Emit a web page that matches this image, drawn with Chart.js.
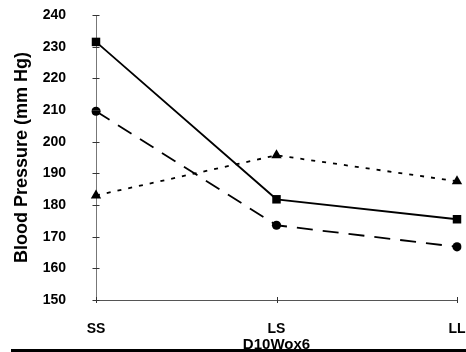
<!DOCTYPE html>
<html>
<head>
<meta charset="utf-8">
<script src="https://cdn.jsdelivr.net/npm/chart.js@4"></script>
<style>
html,body{margin:0;padding:0;background:#fff;}
#wrap{width:466px;height:352px;position:relative;}
</style>
</head>
<body>
<div id="wrap"><canvas id="c" width="466" height="352"></canvas></div>
<script>
const categories = ["SS", "LS", "LL"];
const squareSeries = [231.5, 181.8, 175.5];
const circleSeries = [209.6, 173.6, 166.8];
const triangleSeries = [183.0, 195.7, 187.5];
const yTicks = [150, 160, 170, 180, 190, 200, 210, 220, 230, 240];

const FONT = "'Liberation Sans', Arial, sans-serif";

const crossTicks = {
  id: 'crossTicks',
  afterDraw(chart) {
    const ctx = chart.ctx;
    const x = chart.scales.x, y = chart.scales.y;
    ctx.save();
    ctx.strokeStyle = '#333';
    ctx.lineWidth = 1;
    const x0 = x.getPixelForValue(0);
    yTicks.forEach(v => {
      const py = Math.round(y.getPixelForValue(v)) + 0.5;
      ctx.beginPath();
      ctx.moveTo(x0 - 3.5, py);
      ctx.lineTo(x0 + 3.5, py);
      ctx.stroke();
    });
    const yb = y.getPixelForValue(150);
    categories.forEach((c, i) => {
      const px = Math.round(x.getPixelForValue(i)) + 0.5;
      ctx.beginPath();
      ctx.moveTo(px, yb - 3);
      ctx.lineTo(px, yb + 3);
      ctx.stroke();
    });
    // bottom separator rule
    ctx.fillStyle = '#000';
    ctx.fillRect(11, 349, 466 - 11, 3);
    ctx.restore();
  }
};

new Chart(document.getElementById('c'), {
  type: 'line',
  data: {
    labels: categories,
    datasets: [
      {
        data: squareSeries,
        borderColor: '#000', backgroundColor: '#000',
        borderWidth: 1.8, pointStyle: 'rect', pointRadius: 6,
        pointBorderWidth: 0, tension: 0
      },
      {
        data: circleSeries,
        borderColor: '#000', backgroundColor: '#000',
        borderWidth: 1.8, borderDash: [16, 10], pointStyle: 'circle', pointRadius: 4.6,
        pointBorderWidth: 0, tension: 0
      },
      {
        data: triangleSeries,
        borderColor: '#000', backgroundColor: '#000',
        borderWidth: 1.8, borderDash: [4, 7], pointStyle: 'triangle', pointRadius: 6,
        pointBorderWidth: 0, tension: 0
      }
    ]
  },
  options: {
    responsive: false,
    animation: false,
    devicePixelRatio: 1,
    layout: { padding: { top: 15, right: 9, left: 0, bottom: 0 } },
    plugins: { legend: { display: false }, tooltip: { enabled: false } },
    scales: {
      x: {
        offset: false,
        grid: { display: false, drawOnChartArea: false },
        border: { display: true, color: '#555', width: 1 },
        ticks: { color: '#000', font: { family: FONT, size: 14, weight: 'bold' }, padding: 13, maxRotation: 0 },
        title: { display: true, text: 'D10Wox6', color: '#000', font: { family: FONT, size: 15, weight: 'bold' }, padding: { top: 0, bottom: -1.5 } },
        afterFit(s) { s.height = 52; s.paddingLeft = 0; s.paddingRight = 0; }
      },
      y: {
        min: 150, max: 240,
        afterBuildTicks(s) { s.ticks = yTicks.map(v => ({ value: v })); },
        grid: { display: false, drawOnChartArea: false },
        border: { display: true, color: '#777', width: 1, dash: [2, 1] },
        ticks: { color: '#000', font: { family: FONT, size: 14, weight: 'bold' }, padding: 22 },
        title: { display: true, text: 'Blood Pressure (mm Hg)', color: '#000', font: { family: FONT, size: 18, weight: 'bold' }, padding: { top: 11, bottom: 0 } },
        afterFit(s) { s.width = 96; s.paddingTop = 0; s.paddingBottom = 0; }
      }
    }
  },
  plugins: [crossTicks]
});
</script>
</body>
</html>
